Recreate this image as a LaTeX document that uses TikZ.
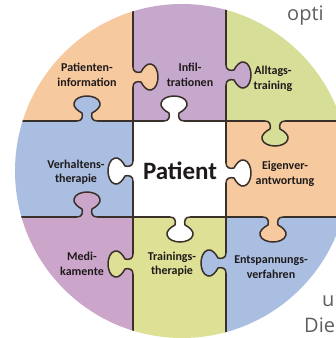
\documentclass[tikz,border=0pt]{standalone}
\usepackage{fontspec}
\setmainfont{Carlito}
\newfontfamily\outerfont{Open Sans}
\definecolor{cOrange}{RGB}{247,201,158}
\definecolor{cPurple}{RGB}{198,168,204}
\definecolor{cGreen}{RGB}{214,222,152}
\definecolor{cYellow}{RGB}{222,224,150}
\definecolor{cBlue}{RGB}{170,190,226}
\definecolor{cPink}{RGB}{204,166,202}
\definecolor{cLine}{RGB}{58,48,42}
\definecolor{cText}{RGB}{30,26,26}
\definecolor{cOuter}{RGB}{95,95,95}
\tikzset{
  seam/.style={draw=cLine, line width=1.5pt, line cap=round, line join=round},
  lbl/.style={align=center, text=cText, inner sep=0pt,
    font=\fontsize{12}{14.5}\selectfont\bfseries},
  outer/.style={anchor=base west, inner sep=0pt, text=cOuter,
    font=\outerfont\fontsize{20}{24}\selectfont}
}
\newcommand\knob[4]{%
  \begin{scope}[shift={(#1,#2)},rotate=#3]
    \fill[#4] (-10,-2) -- (-10,0) .. controls (-5,0) and (-4,4) .. (-5,8)
      .. controls (-9,10) and (-14,14) .. (-13,18)
      .. controls (-12,23) and (-5,25) .. (0,25)
      .. controls (5,25) and (12,23) .. (13,18)
      .. controls (14,14) and (9,10) .. (5,8)
      .. controls (4,4) and (5,0) .. (10,0) -- (10,-2) -- cycle;
    \draw[seam] (-10,0) .. controls (-5,0) and (-4,4) .. (-5,8)
      .. controls (-9,10) and (-14,14) .. (-13,18)
      .. controls (-12,23) and (-5,25) .. (0,25)
      .. controls (5,25) and (12,23) .. (13,18)
      .. controls (14,14) and (9,10) .. (5,8)
      .. controls (4,4) and (5,0) .. (10,0);
  \end{scope}}
\begin{document}
\begin{tikzpicture}[x=1pt,y=-1pt]
\useasboundingbox (0,0) rectangle (336,338);
\clip (0,0) rectangle (336,338);
\begin{scope}
  \clip (182,171) circle[radius=167pt];
  \fill[cOrange] (0,0) rectangle (133,121);
  \fill[cPurple] (133,0) rectangle (226,121);
  \fill[cGreen] (226,0) rectangle (360,121);
  \fill[cBlue] (0,121) rectangle (133,217);
  \fill[white] (133,121) rectangle (226,217);
  \fill[cOrange] (226,121) rectangle (360,217);
  \fill[cPink] (0,217) rectangle (133,360);
  \fill[cYellow] (133,217) rectangle (226,360);
  \fill[cBlue] (226,217) rectangle (360,360);
  \draw[seam] (133,0) -- (133,345);
  \draw[seam] (226,0) -- (226,345);
  \draw[seam] (0,121) -- (360,121);
  \draw[seam] (0,217) -- (360,217);
  \knob{133}{77}{90}{cOrange}
  \knob{226}{75}{90}{cPurple}
  \knob{87}{121}{180}{cBlue}
  \knob{174}{121}{180}{white}
  \knob{275}{121}{0}{cGreen}
  \knob{133}{171}{-90}{white}
  \knob{226}{173}{90}{white}
  \knob{87}{217}{180}{cPink}
  \knob{180}{217}{0}{white}
  \knob{273}{217}{0}{cOrange}
  \knob{133}{264}{-90}{cYellow}
  \knob{226}{263}{-90}{cBlue}
\end{scope}
\node[lbl] (l1) at (87,75) {Patienten-\\information};
\node[lbl] (l2) at (190,75) {Infil-\\trationen};
\node[lbl] (l3) at (273,79) {Alltags-\\training};
\node[lbl] (l4) at (76,172) {Verhaltens-\\therapie};
\node[lbl, font=\fontsize{25}{27}\selectfont\bfseries] (l5) at (180,171) {Patient};
\node[lbl] (l6) at (285,174) {Eigenver-\\antwortung};
\node[lbl] (l7) at (82,264) {Medi-\\kamente};
\node[lbl] (l8) at (172,264) {Trainings-\\therapie};
\node[lbl] (l9) at (271,267) {Entspannungs-\\verfahren};
\node[outer] (o1) at (287,20) {opti};
\node[outer] (o2) at (322,306) {u};
\node[outer] (o3) at (304,332) {Die};
\end{tikzpicture}
\end{document}
